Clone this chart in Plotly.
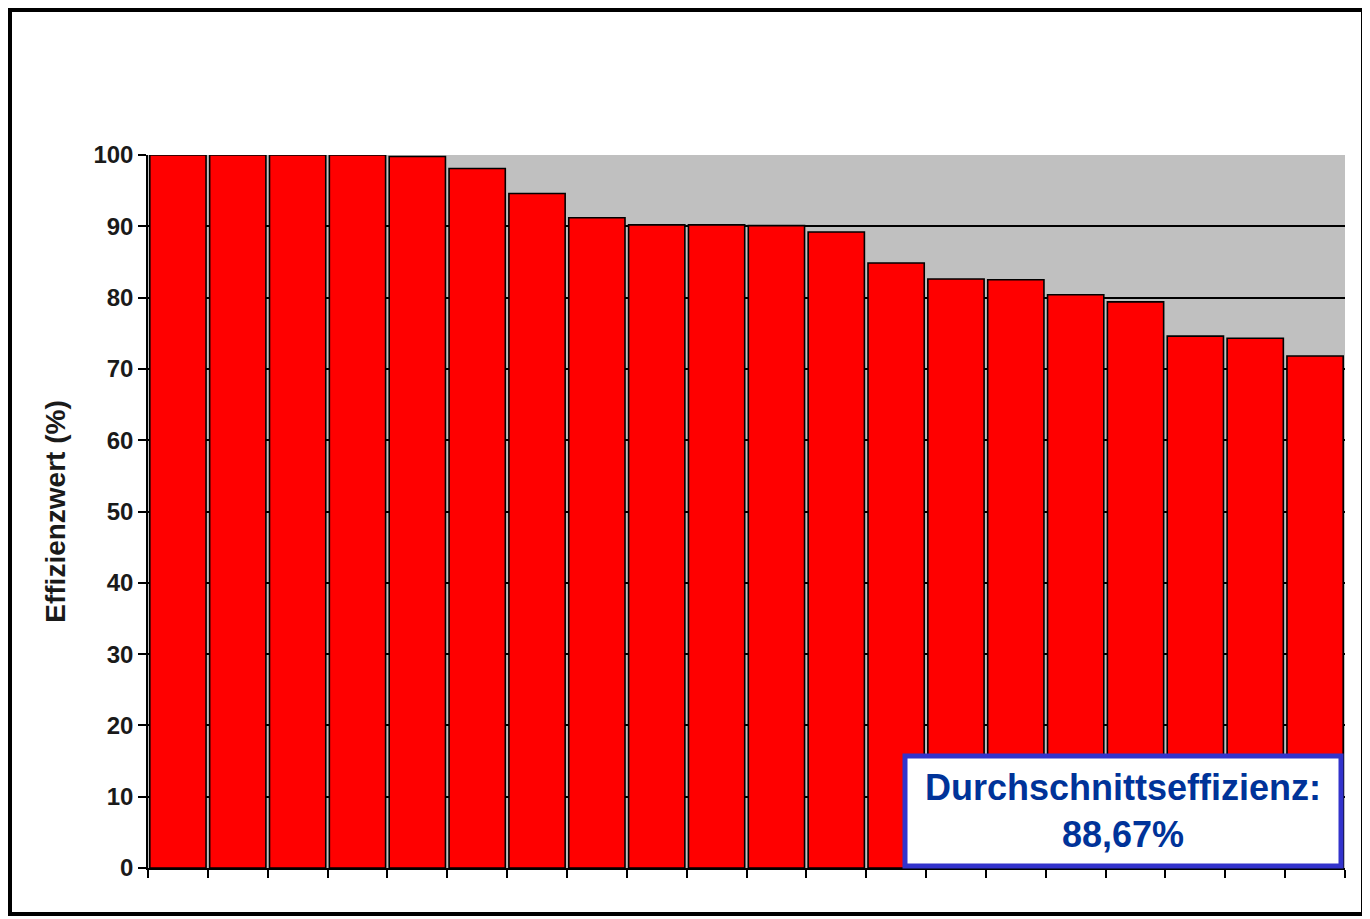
import plotly.graph_objects as go

# Effizienzwerte der 20 Einheiten, absteigend sortiert
units = [f"E{i}" for i in range(1, 21)]
efficiency = [100, 100, 100, 100, 99.8, 98.1, 94.6, 91.2, 90.2, 90.2,
              90.1, 89.2, 84.85, 82.6, 82.5, 80.4, 79.4, 74.6, 74.3, 71.8]
y_ticks = [0, 10, 20, 30, 40, 50, 60, 70, 80, 90, 100]
avg_label = "Durchschnittseffizienz:<br>88,67%"

# die Seite hat 8px Rand, daher ist die Figur um 8px kleiner
OFF = 8
W, H = 1370 - OFF, 919 - OFF
ml, mr, mt, mb = 148 - OFF, 25, 155 - OFF, 51
pw, ph = W - ml - mr, H - mt - mb


def px(x):
    # Seitenkoordinate -> paper
    return (x - OFF - ml) / pw


def py(y):
    return (H - mb - (y - OFF)) / ph


fig = go.Figure()
fig.add_trace(go.Bar(
    x=units, y=efficiency,
    marker=dict(color="#FF0000", line=dict(color="black", width=1.6)),
    hoverinfo="y",
))

fig.update_layout(
    width=W, height=H,
    margin=dict(l=ml, r=mr, t=mt, b=mb),
    paper_bgcolor="white",
    plot_bgcolor="#C0C0C0",
    bargap=0.06,
    showlegend=False,
    font=dict(family="Liberation Sans, Arial, sans-serif", color="#1a1a1a"),
    xaxis=dict(
        showticklabels=False, tickson="boundaries", ticks="outside",
        ticklen=8, tickwidth=1.5, tickcolor="black",
        showline=True, linecolor="black", linewidth=1.5, showgrid=False,
    ),
    yaxis=dict(
        range=[0, 100], tickvals=y_ticks, ticks="outside", ticklen=8,
        tickwidth=1.5, tickcolor="black",
        showline=True, linecolor="black", linewidth=1.5,
        showgrid=True, gridcolor="black", gridwidth=1.5,
        tickfont=dict(size=24, weight="bold"),
        title=dict(text="Effizienzwert (%)", font=dict(size=28, weight="bold"), standoff=20),
        zeroline=False,
    ),
)

# Rahmen um das ganze Diagramm
fig.add_shape(type="rect", xref="paper", yref="paper",
              x0=px(10), x1=px(1363), y0=py(914), y1=py(10),
              line=dict(color="black", width=4), fillcolor="rgba(0,0,0,0)")

# Kasten mit Durchschnittswert
fig.add_shape(type="rect", xref="paper", yref="paper",
              x0=px(905), x1=px(1341), y0=py(866), y1=py(756),
              line=dict(color="#3333CC", width=5), fillcolor="white", layer="above")
fig.add_annotation(xref="paper", yref="paper", x=px(1123), y=py(811),
                   xanchor="center", yanchor="middle",
                   text=avg_label, showarrow=False,
                   font=dict(size=36, color="#003399", weight="bold"),
                   align="center")

fig.write_html("out.html")
